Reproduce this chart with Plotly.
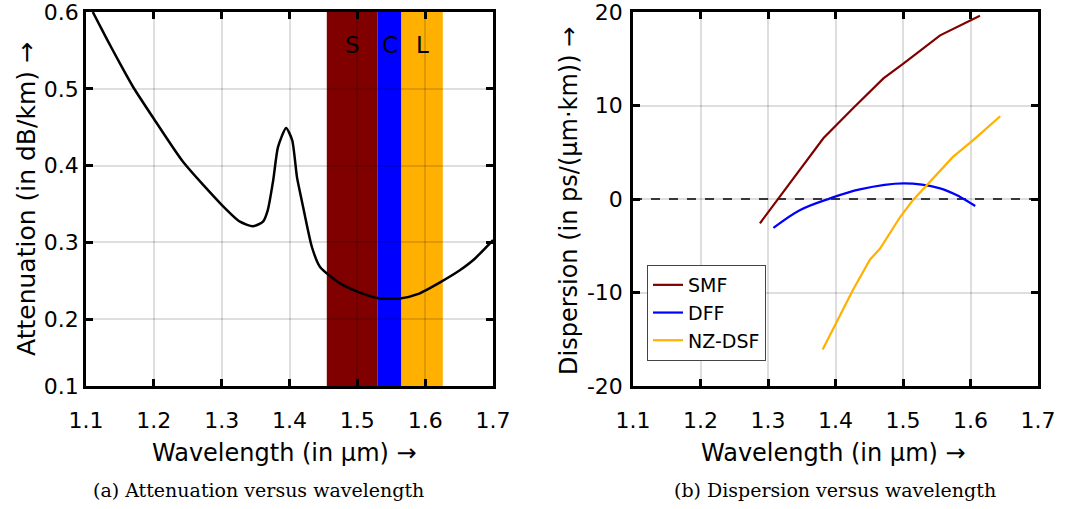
import plotly.graph_objects as go

# Attenuation data
att_wl = [1.110, 1.13, 1.15, 1.169, 1.2, 1.243, 1.3, 1.327, 1.346, 1.361, 1.368, 1.376, 1.383, 1.395,
          1.404, 1.411, 1.418, 1.433, 1.445, 1.474, 1.50, 1.533, 1.563, 1.59, 1.622, 1.65, 1.671, 1.7]
att_db = [0.600, 0.566, 0.533, 0.503, 0.461, 0.405, 0.349, 0.327, 0.321, 0.327, 0.342, 0.381, 0.424, 0.449,
          0.433, 0.385, 0.355, 0.294, 0.268, 0.247, 0.236, 0.227, 0.227, 0.233, 0.248, 0.263, 0.277, 0.303]

band_names = ["S", "C", "L"]
band_start = [1.455, 1.530, 1.565]
band_end = [1.530, 1.565, 1.626]
band_colors = ["#800000", "#0000ff", "#ffb000"]

# Dispersion data
smf_wl = [1.288, 1.315, 1.35, 1.382, 1.426, 1.471, 1.501, 1.555, 1.614]
smf_d = [-2.6, 0.0, 3.5, 6.5, 9.7, 12.9, 14.5, 17.5, 19.6]
dff_wl = [1.308, 1.347, 1.392, 1.436, 1.501, 1.555, 1.584, 1.607]
dff_d = [-3.1, -1.2, 0.07, 1.03, 1.67, 1.14, 0.25, -0.75]
nz_wl = [1.381, 1.426, 1.451, 1.466, 1.496, 1.515, 1.574, 1.604, 1.644]
nz_d = [-16.1, -9.7, -6.5, -5.3, -1.9, -0.1, 4.5, 6.3, 8.85]

att_ticks = [0.113, 0.2, 0.3, 0.4, 0.5, 0.6]
att_ticktext = ["0.1", "0.2", "0.3", "0.4", "0.5", "0.6"]
wl_ticks = [1.1, 1.2, 1.3, 1.4, 1.5, 1.6, 1.7]
disp_ticks = [-20, -10, 0, 10, 20]
disp_ticktext = ["-20", "-10", "0", "10", "20"]

W, H = 1067, 509
FONT = "DejaVu Sans"

fig = go.Figure()

fig.add_trace(go.Scatter(x=att_wl, y=att_db, mode="lines", line=dict(color="black", width=2.5, shape="spline", smoothing=0.6),
                         showlegend=False, xaxis="x", yaxis="y"))

fig.add_trace(go.Scatter(x=[1.1, 1.7], y=[0, 0], mode="lines", line=dict(color="black", width=1.5, dash="dash"),
                         showlegend=False, xaxis="x2", yaxis="y2"))
fig.add_trace(go.Scatter(x=smf_wl, y=smf_d, mode="lines", name="SMF", line=dict(color="#800000", width=2.2),
                         xaxis="x2", yaxis="y2"))
fig.add_trace(go.Scatter(x=dff_wl, y=dff_d, mode="lines", name="DFF", line=dict(color="#0000ff", width=2.2, shape="spline"),
                         xaxis="x2", yaxis="y2"))
fig.add_trace(go.Scatter(x=nz_wl, y=nz_d, mode="lines", name="NZ-DSF", line=dict(color="#ffb000", width=2.2),
                         xaxis="x2", yaxis="y2"))

shapes = []
annotations = []
for n, s, e, c in zip(band_names, band_start, band_end, band_colors):
    shapes.append(dict(type="rect", xref="x", yref="y", x0=s, x1=e, y0=0.113, y1=0.6,
                       fillcolor=c, line=dict(width=0), layer="below"))
    annotations.append(dict(x=(s + e) / 2, y=0.557, xref="x", yref="y", text=n, showarrow=False,
                            xanchor="center", yanchor="middle",
                            font=dict(family=FONT, size=23, color="black")))

def px(xp):
    return xp / W

def py(yp):
    return 1 - yp / H

axis_common = dict(showline=True, linecolor="black", linewidth=2.5, mirror="allticks", ticks="inside",
                   ticklen=7, tickwidth=2.5, tickcolor="black", showgrid=True, gridcolor="rgba(0,0,0,0.13)",
                   gridwidth=1.5, zeroline=False, automargin=False, ticklabeloverflow="allow",
                   tickfont=dict(family=FONT, size=22, color="black"))

fig.update_layout(
    width=W, height=H, margin=dict(l=0, r=0, t=0, b=0, pad=0, autoexpand=False),
    paper_bgcolor="white", plot_bgcolor="white",
    xaxis=dict(domain=[px(86), px(493)], range=[1.1, 1.7], tickvals=wl_ticks, ticklabelstandoff=13,
               anchor="y", **axis_common),
    yaxis=dict(domain=[py(386), py(12)], range=[0.113, 0.6], tickvals=att_ticks, ticktext=att_ticktext,
               anchor="x", ticklabelstandoff=0, **axis_common),
    xaxis2=dict(domain=[px(633), px(1038)], range=[1.1, 1.7], tickvals=wl_ticks, ticklabelstandoff=13,
                anchor="y2", **axis_common),
    yaxis2=dict(domain=[py(386), py(12)], range=[-20, 20], tickvals=disp_ticks, ticktext=disp_ticktext,
                anchor="x2", ticklabelstandoff=3, **axis_common),
    legend=dict(x=px(647), y=py(265), xanchor="left", yanchor="top", bgcolor="white",
                bordercolor="#444", borderwidth=1, font=dict(family=FONT, size=19, color="black"),
                itemwidth=30, tracegroupgap=0),
    shapes=shapes,
)

def pa(x, y, text, size, family=FONT, angle=0):
    return dict(x=px(x), y=py(y), xref="paper", yref="paper", text=text, showarrow=False,
                xanchor="center", yanchor="middle", textangle=angle,
                font=dict(family=family, size=size, color="black"))

annotations += [
    pa(284, 453, "Wavelength (in μm) →", 24),
    pa(833, 453, "Wavelength (in μm) →", 24),
    pa(26, 199, "Attenuation (in dB/km) →", 25, angle=-90),
    pa(569, 201, "Dispersion (in ps/(μm·km)) →", 24, angle=-90),
    pa(258, 490, "(a) Attenuation versus wavelength", 19, family="DejaVu Serif"),
    pa(835, 490, "(b) Dispersion versus wavelength", 19, family="DejaVu Serif"),
]
fig.update_layout(annotations=annotations)

fig.write_html("out.html")
